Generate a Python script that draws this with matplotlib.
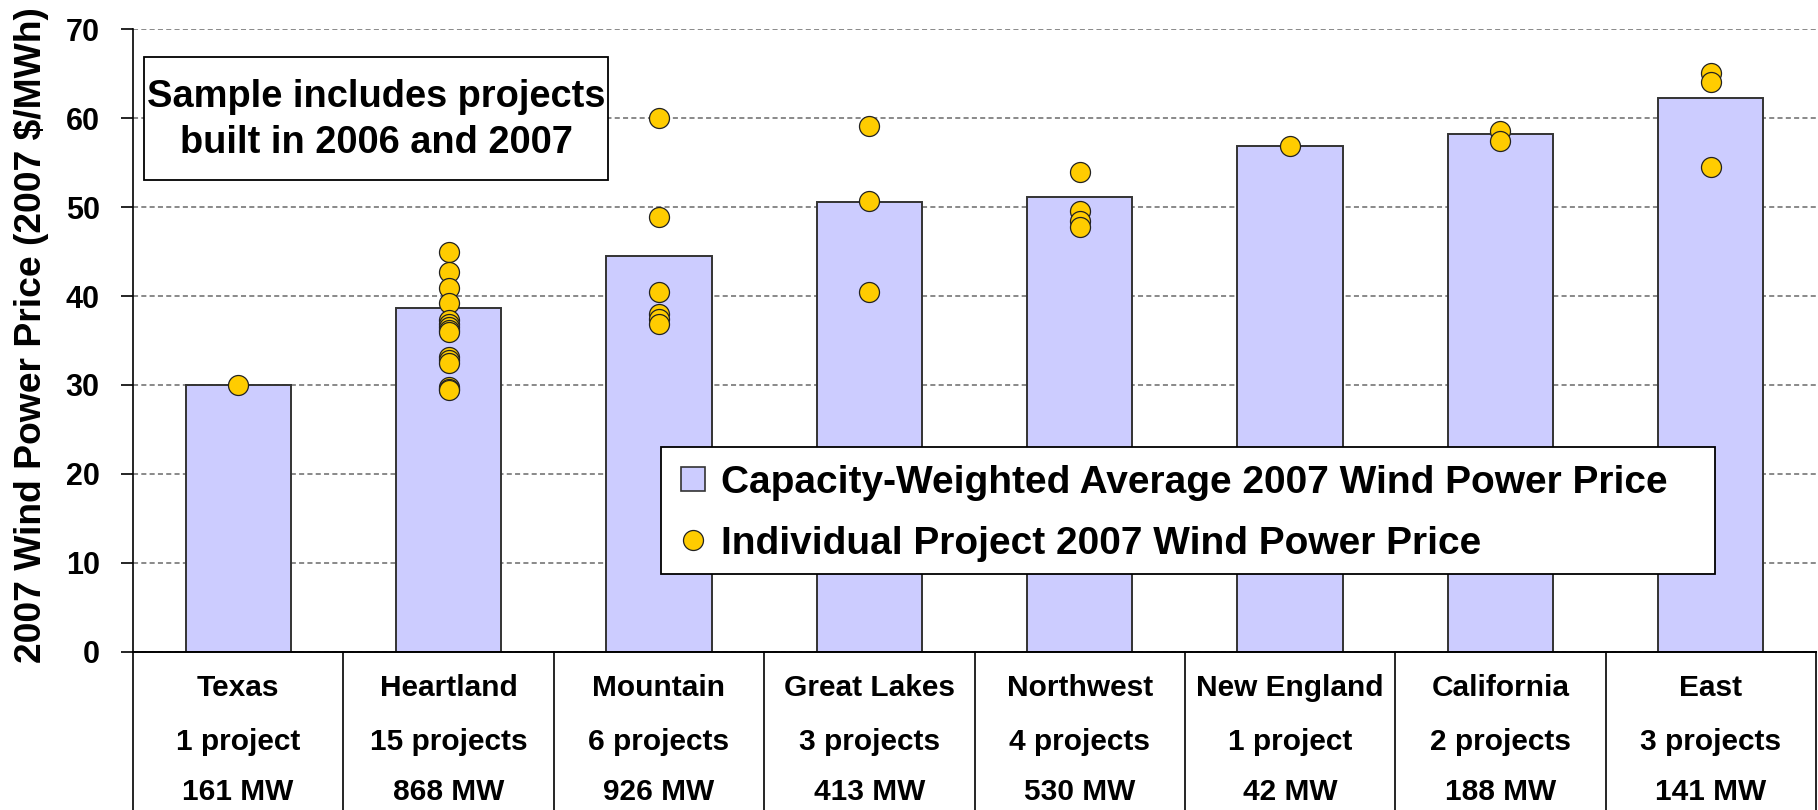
import matplotlib
matplotlib.use("Agg")
import matplotlib.pyplot as plt
from matplotlib.patches import Rectangle
from matplotlib.lines import Line2D
import numpy as np

plt.rcParams['font.family'] = ['Liberation Sans', 'DejaVu Sans']
plt.rcParams['font.weight'] = 'bold'

regions = ['Texas', 'Heartland', 'Mountain', 'Great Lakes', 'Northwest',
           'New England', 'California', 'East']
n_projects = ['1 project', '15 projects', '6 projects', '3 projects',
              '4 projects', '1 project', '2 projects', '3 projects']
capacity = ['161 MW', '868 MW', '926 MW', '413 MW', '530 MW', '42 MW',
            '188 MW', '141 MW']

# capacity-weighted average price per region
avg_price = [30.0, 38.7, 44.45, 50.6, 51.1, 56.85, 58.25, 62.3]

# individual project prices
texas = [30.0]
heartland = [44.9, 42.7, 40.9, 39.2, 37.3, 36.9, 36.5, 36.2, 36.0,
             33.1, 32.8, 32.5, 29.8, 29.6, 29.4]
mountain = [60.0, 48.85, 40.4, 38.0, 37.4, 36.8]
great_lakes = [59.1, 50.65, 40.4]
northwest = [54.0, 49.6, 48.4, 47.8]
new_england = [56.9]
california = [58.6, 57.4]
east = [65.1, 64.1, 54.5]
project_prices = [texas, heartland, mountain, great_lakes, northwest,
                  new_england, california, east]

W, H = 1818, 810
fig = plt.figure(figsize=(W / 100, H / 100), dpi=100)
ax = fig.add_axes([133 / W, 1 - 651.7 / H, 1683 / W, 622.4 / H])

x = np.arange(len(regions))
ax.bar(x, avg_price, width=0.5, color='#CCCCFF', edgecolor='#333333',
       linewidth=1.4, zorder=2)
for i, vals in enumerate(project_prices):
    ax.plot([x[i]] * len(vals), vals, 'o', ms=14.4, mfc='#FFCC00',
            mec='#222222', mew=0.9, zorder=3, linestyle='none')

ax.set_xlim(-0.5, len(regions) - 0.5)
ax.set_ylim(0, 70)
ax.set_yticks(range(0, 71, 10))
ax.yaxis.grid(True, color='#808080', linestyle=(0, (2.8, 1.8)), linewidth=1.3)
ax.set_axisbelow(True)
ax.tick_params(axis='y', length=8.4, width=1.2, pad=15.6, labelsize=22)
ax.tick_params(axis='x', bottom=False, labelbottom=False)
for lab in ax.get_yticklabels():
    lab.set_fontweight('bold')
for s in ['top', 'right']:
    ax.spines[s].set_visible(False)
ax.spines['left'].set_linewidth(1.2)
ax.spines['bottom'].set_linewidth(1.4)

# category table below the axis
tr = ax.get_xaxis_transform()
for b in np.arange(-0.5, len(regions), 1.0):
    ax.plot([b, b], [0, -0.26], color='black', lw=1.2, transform=tr,
            clip_on=False)
for i in range(len(regions)):
    ax.text(x[i], -0.0583, regions[i], transform=tr, ha='center', va='center',
            fontsize=21.5, fontweight='bold')
    ax.text(x[i], -0.1446, n_projects[i], transform=tr, ha='center',
            va='center', fontsize=21.5, fontweight='bold')
    ax.text(x[i], -0.2249, capacity[i], transform=tr, ha='center',
            va='center', fontsize=21.5, fontweight='bold')

fig.text(32 / W, 1 - 335 / H, '2007 Wind Power Price (2007 $/MWh)',
         rotation=90, ha='center', va='center', fontsize=26.8,
         fontweight='bold')

# note box
fig.add_artist(Rectangle((144 / W, 1 - 180 / H), (608 - 144) / W,
                         (180 - 57) / H, transform=fig.transFigure,
                         facecolor='white', edgecolor='black', lw=1.3))
fig.text(376 / W, 1 - 120 / H,
         'Sample includes projects\nbuilt in 2006 and 2007',
         ha='center', va='center', fontsize=27.4, fontweight='bold',
         linespacing=1.35)

# legend box
fig.add_artist(Rectangle((661 / W, 1 - 574 / H), (1715 - 661) / W,
                         (574 - 447) / H, transform=fig.transFigure,
                         facecolor='white', edgecolor='black', lw=1.3))
handles = [
    Line2D([], [], marker='s', ms=17.3, mfc='#CCCCFF', mec='#333333',
           mew=1.2, linestyle='none'),
    Line2D([], [], marker='o', ms=14.4, mfc='#FFCC00', mec='#222222',
           mew=0.9, linestyle='none'),
]
labels = ['Capacity-Weighted Average 2007 Wind Power Price',
          'Individual Project 2007 Wind Power Price']
fig.legend(handles, labels, loc='center left',
           bbox_to_anchor=(674 / W, 1 - 513.5 / H),
           bbox_transform=fig.transFigure, frameon=False, borderpad=0,
           borderaxespad=0, handlelength=1.0, handletextpad=0.22,
           labelspacing=0.64, prop={'size': 28, 'weight': 'bold'})

fig.savefig('out.png', dpi=100)
